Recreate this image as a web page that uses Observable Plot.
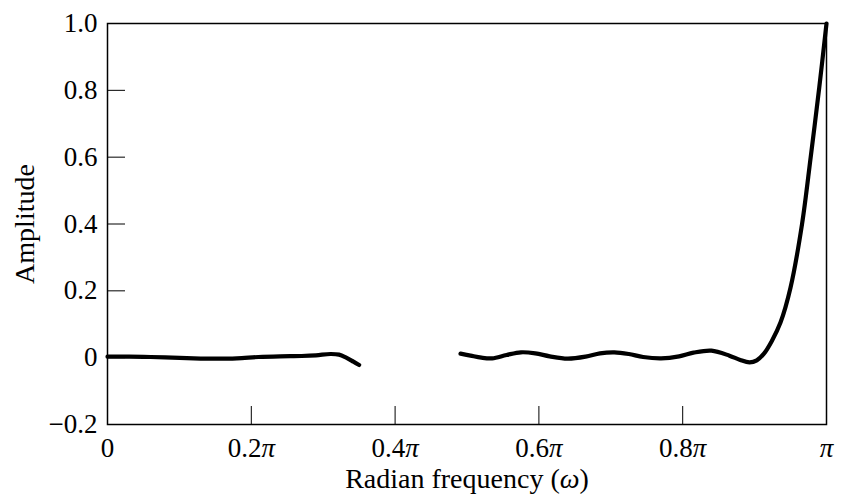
<!DOCTYPE html>
<html><head><meta charset="utf-8">
<script src="https://cdn.jsdelivr.net/npm/d3@7"></script>
<script src="https://cdn.jsdelivr.net/npm/@observablehq/plot@0.6"></script>
<style>body{margin:0;background:#fff}</style>
</head><body><div id="chart"></div>
<script>
// frequency in units of pi
const passFreq = [0, 0.03, 0.06, 0.09, 0.12, 0.15, 0.18, 0.21, 0.24, 0.27, 0.29, 0.31, 0.322, 0.332, 0.342, 0.35];
const passAmp  = [0.003, 0.003, 0.002, 0.0, -0.002, -0.003, -0.002, 0.002, 0.004, 0.005, 0.007, 0.011, 0.009, 0.0, -0.012, -0.022];
const stopFreq = [0.491, 0.505, 0.52, 0.535, 0.555, 0.575, 0.595, 0.615, 0.64, 0.665, 0.685, 0.705, 0.725, 0.745, 0.77, 0.795, 0.815, 0.84, 0.865, 0.88, 0.893, 0.903, 0.913, 0.924, 0.936, 0.95, 0.966, 0.978, 0.99, 1.0];
const stopAmp  = [0.012, 0.006, 0.0, -0.002, 0.008, 0.016, 0.013, 0.004, -0.003, 0.003, 0.013, 0.016, 0.011, 0.002, -0.002, 0.004, 0.015, 0.021, 0.006, -0.007, -0.014, -0.008, 0.012, 0.05, 0.105, 0.21, 0.40, 0.60, 0.81, 1.0];

const xTicks = [0, 0.2, 0.4, 0.6, 0.8, 1];
const xTickLabels = ["0", "0.2π", "0.4π", "0.6π", "0.8π", "π"];
const yTicks = [-0.2, 0, 0.2, 0.4, 0.6, 0.8, 1.0];
const yTickLabels = ["−0.2", "0", "0.2", "0.4", "0.6", "0.8", "1.0"];
const xLabel = "Radian frequency (ω)";
const yLabel = "Amplitude";

const rows = [
  ...passFreq.map((f, i) => ({f, a: passAmp[i], seg: "pass"})),
  ...stopFreq.map((f, i) => ({f, a: stopAmp[i], seg: "stop"}))
];

const chart = Plot.plot({
  width: 841, height: 497,
  marginLeft: 107, marginRight: 15, marginTop: 23, marginBottom: 73,
  style: {fontFamily: "'Liberation Serif', 'Times New Roman', serif", fontSize: "27px", color: "#000", background: "#fff"},
  x: {domain: [0, 1]},
  y: {domain: [-0.2, 1]},
  marks: [
    Plot.axisX(xTicks.slice(1, -1), {tickSize: -18, tickFormat: () => "", label: null}),
    Plot.axisX(xTicks, {tickSize: 0, tickPadding: 13, tickFormat: d => xTickLabels[xTicks.indexOf(d)], label: xLabel, labelAnchor: "center", labelOffset: 63, labelArrow: false}),
    Plot.axisY(yTicks.slice(1, -1), {tickSize: -18, tickFormat: () => "", label: null}),
    Plot.axisY(yTicks, {tickSize: 0, tickPadding: 10, tickFormat: d => yTickLabels[yTicks.indexOf(d)], label: yLabel, labelAnchor: "center", labelOffset: 93, labelArrow: false}),
    Plot.frame({strokeWidth: 1.5}),
    Plot.line(rows, {x: "f", y: "a", z: "seg", stroke: "#000", strokeWidth: 4.2, curve: "catmull-rom"})
  ]
});
chart.querySelectorAll("text, tspan").forEach(t => {
  if (t.children.length === 0 && /[πω]/.test(t.textContent)) {
    t.innerHTML = t.textContent.replace(/([πω])/g, '<tspan font-style="italic">$1</tspan>');
  }
});
chart.querySelectorAll("g[aria-label='x-axis label'] text, g[aria-label='y-axis label'] text").forEach(t => t.setAttribute("font-size", "28"));
document.getElementById("chart").appendChild(chart);
</script>
</body></html>
